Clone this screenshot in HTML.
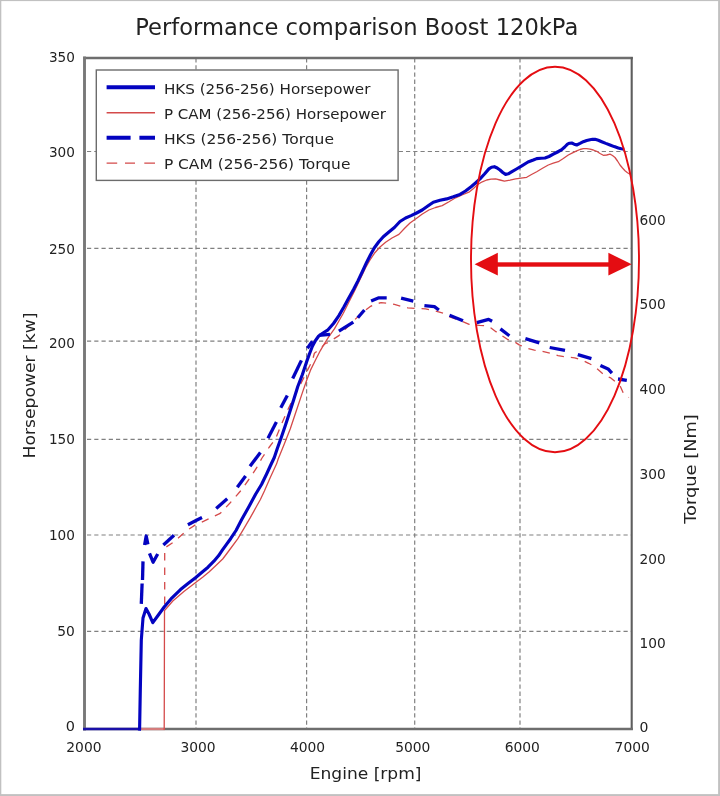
<!DOCTYPE html>
<html lang="en"><head><meta charset="utf-8"><title>Performance comparison Boost 120kPa</title>
<style>html,body{margin:0;padding:0;background:#fff}body{width:720px;height:796px;overflow:hidden}svg{display:block}text{font-family:"DejaVu Sans","Liberation Sans",sans-serif;fill:#222222}</style></head><body>
<svg width="720" height="796" viewBox="0 0 720 796">
<rect x="0" y="0" width="720" height="796" fill="#ffffff"/>
<g fill="#c1c1c1"><rect x="0" y="0" width="720" height="1.1"/><rect x="0" y="0" width="1.3" height="796"/><rect x="718.1" y="0" width="1.9" height="796"/><rect x="0" y="794.1" width="720" height="1.9"/></g>
<g stroke="#808080" stroke-width="1.2" fill="none" stroke-dasharray="4.2 3.05">
<line x1="87.0" y1="151.5" x2="631.7" y2="151.5"/>
<line x1="87.0" y1="248.4" x2="631.7" y2="248.4"/>
<line x1="87.0" y1="341.1" x2="631.7" y2="341.1"/>
<line x1="87.0" y1="439.3" x2="631.7" y2="439.3"/>
<line x1="87.0" y1="535.0" x2="631.7" y2="535.0"/>
<line x1="87.0" y1="631.4" x2="631.7" y2="631.4"/>
</g>
<g stroke="#808080" stroke-width="1.2" fill="none" stroke-dasharray="4.4 2.8">
<line x1="196.0" y1="58.0" x2="196.0" y2="729.0"/>
<line x1="306.6" y1="58.0" x2="306.6" y2="729.0"/>
<line x1="414.7" y1="58.0" x2="414.7" y2="729.0"/>
<line x1="520.0" y1="58.0" x2="520.0" y2="729.0"/>
</g>
<g stroke="#6e6e6e" fill="none" stroke-linecap="square">
<line x1="84.5" y1="58.0" x2="631.7" y2="58.0" stroke-width="2.3"/>
<line x1="631.7" y1="58.0" x2="631.7" y2="729.0" stroke-width="2.1" stroke="#5e5e5e"/>
<line x1="84.5" y1="729.0" x2="631.7" y2="729.0" stroke-width="2.4"/>
<line x1="84.5" y1="58.0" x2="84.5" y2="729.0" stroke-width="2.9" stroke="#787878"/>
</g>
<line x1="140" y1="729.0" x2="165" y2="729.0" stroke="#d47c7c" stroke-width="2.3"/>
<line x1="83" y1="729.0" x2="140.8" y2="729.0" stroke="#1a10a8" stroke-width="2.6"/>
<polyline points="164.7,604.0 164.7,548.0 174.0,541.8 187.0,530.4 196.0,524.5 203.4,521.4 220.2,513.4 230.0,503.0 240.3,491.3 248.5,480.0 256.4,468.2 262.0,458.0 269.0,447.5 275.5,439.0 282.0,423.0 288.3,408.7 294.3,396.5 300.4,384.5 306.4,372.5 312.4,360.4 314.4,353.3 320.5,348.3 325.6,343.3 328.5,342.3 338.9,335.6 346.5,328.0 354.4,320.0 362.0,313.0 370.0,306.7 375.5,304.0 381.1,302.7 388.0,303.2 394.4,304.4 401.0,306.3 407.8,307.8 416.5,308.5 425.6,308.9 434.5,310.8 443.3,313.3 448.3,316.4 453.9,318.5 462.2,321.3 469.2,324.4 479.6,325.4 487.2,325.8 491.0,328.0 495.6,331.4 501.1,335.1 507.4,339.3 515.0,342.1 519.2,344.9 526.8,348.1 534.4,350.2 540.0,350.8 552.5,353.9 558.0,355.7 566.4,357.1 574.7,357.8 582.4,360.3 588.6,363.3 594.4,366.4 599.7,371.0 605.3,375.8 610.8,377.9 615.7,382.1 620.6,386.9 623.3,393.2 628.9,397.4" fill="none" stroke="#d44a4a" stroke-width="1.3" stroke-dasharray="7.5 7" stroke-linejoin="round"/>
<polyline points="164.2,730.0 164.3,700.0 164.5,610.6 172.8,601.0 183.9,591.6 195.0,582.9 202.6,577.3 209.0,572.0 215.1,566.3 222.7,559.0 226.5,554.0 230.2,549.0 237.7,538.9 244.0,528.3 250.3,517.6 256.6,506.3 260.4,499.5 264.4,491.0 270.5,477.0 276.5,464.1 278.2,459.0 284.3,444.0 290.3,428.8 296.4,410.5 302.4,392.6 306.4,381.0 310.4,370.4 315.5,360.0 320.5,350.3 324.5,343.5 328.5,337.2 334.4,328.9 338.9,321.0 343.3,313.3 348.9,302.0 354.4,291.1 360.0,279.5 365.6,267.8 370.0,260.0 374.4,253.3 380.0,247.0 385.6,242.2 392.0,238.0 398.9,234.4 404.4,228.5 410.0,223.0 415.6,218.9 422.0,214.3 428.9,210.0 435.5,207.5 442.2,205.6 449.0,201.8 455.6,197.8 462.0,195.0 468.9,192.2 473.5,188.5 477.8,184.4 482.3,181.8 486.7,180.0 491.0,179.2 495.6,178.9 500.0,180.0 504.4,181.1 510.0,180.2 515.6,178.9 521.0,178.2 526.7,177.3 531.5,174.5 536.7,171.7 542.5,168.3 548.3,165.0 553.3,163.2 558.3,161.7 563.3,158.5 568.3,155.0 572.5,152.8 576.7,150.8 580.0,149.5 583.3,148.7 586.7,148.7 590.0,149.2 593.3,150.0 596.7,151.3 600.0,153.5 603.3,155.3 606.7,155.0 610.0,154.2 612.5,155.5 615.0,157.5 617.5,161.0 620.0,165.0 622.5,168.0 625.0,170.8 627.5,172.8 630.0,174.2" fill="none" stroke="#d44a4a" stroke-width="1.3" stroke-linejoin="round"/>
<g fill="none" stroke="#0303c0" stroke-width="3.3" stroke-linejoin="round" stroke-linecap="butt">
<polyline points="141.3,603.9 142.1,583.5"/>
<polyline points="142.5,580.0 143.0,561.4"/>
<polyline points="144.6,545.0 146.2,536.0 147.9,544.3"/>
<polyline points="149.5,553.3 153.1,562.2 157.7,554.0"/>
<polyline points="163.4,545.0 174.0,535.3"/>
<polyline points="187.9,524.7 196.0,520.5 202.0,517.5"/>
<polyline points="216.2,508.4 227.2,498.8"/>
<polyline points="237.3,487.3 245.6,476.0"/>
<polyline points="250.0,466.2 260.4,452.5"/>
<polyline points="268.0,438.2 276.4,422.0"/>
<polyline points="280.8,407.8 287.3,395.5"/>
<polyline points="292.7,378.5 301.4,360.4"/>
<polyline points="307.4,348.3 312.4,341.2"/>
<polyline points="318.9,335.3 330.0,334.4"/>
<polyline points="338.9,331.1 353.3,322.2"/>
<polyline points="357.8,317.8 364.4,310.0"/>
<polyline points="371.1,301.1 378.9,297.8 386.7,297.8"/>
<polyline points="401.1,298.2 413.3,301.1"/>
<polyline points="424.4,305.6 434.4,306.7 438.9,310.0"/>
<polyline points="449.5,315.2 463.0,320.7"/>
<polyline points="476.8,322.6 488.6,319.4 492.1,321.3"/>
<polyline points="500.4,328.9 509.4,335.8"/>
<polyline points="525.4,338.6 539.3,342.8"/>
<polyline points="549.7,347.5 565.0,350.4"/>
<polyline points="577.8,354.6 591.4,358.6"/>
<polyline points="600.4,365.4 608.1,368.9 611.9,373.1"/>
<polyline points="618.0,379.0 626.8,380.3"/>
</g>
<polyline points="139.4,730.6 139.6,729.0 140.3,690.0 141.3,640.0 143.0,618.0 146.0,608.5 149.0,614.0 152.8,622.7 158.0,615.5 164.2,607.0 172.0,597.8 180.5,589.6 188.0,583.6 195.2,578.0 202.0,572.2 208.0,567.2 213.9,561.2 218.5,555.8 222.5,549.9 226.5,544.3 230.6,538.7 236.0,530.5 241.7,519.5 249.0,506.5 255.6,494.3 261.5,484.5 266.5,474.2 270.5,465.5 274.3,457.5 277.3,448.5 281.5,436.8 285.5,425.0 289.5,412.7 293.6,400.0 297.8,386.5 302.4,374.5 306.4,362.4 309.4,354.0 312.4,346.3 315.5,340.5 318.7,336.0 323.0,333.0 328.0,329.8 333.5,323.5 338.9,315.6 344.0,306.8 348.9,297.8 353.5,289.5 357.8,281.1 362.3,271.7 366.7,262.2 370.5,254.8 374.4,247.8 378.8,241.8 383.3,236.7 388.9,232.0 394.4,227.5 400.0,221.5 405.6,218.0 411.1,215.6 416.6,213.0 422.2,210.0 427.8,206.0 433.3,202.2 440.0,200.3 446.7,198.9 453.3,196.8 460.0,194.4 465.5,191.0 471.1,186.7 475.5,183.0 480.0,178.9 484.5,174.0 488.9,168.9 491.5,167.2 494.4,166.7 497.2,168.0 500.0,170.0 502.8,172.5 505.6,174.4 508.3,173.8 511.1,172.2 516.5,169.0 522.2,165.6 528.0,162.0 533.3,160.0 536.7,158.6 541.0,158.2 545.0,158.0 549.0,156.5 553.3,154.2 557.5,152.0 561.7,149.7 564.7,147.0 567.5,144.2 569.6,143.2 571.7,143.0 574.2,144.2 576.7,145.0 580.0,143.4 583.3,141.7 586.7,140.5 590.0,139.7 592.5,139.3 595.0,139.3 598.3,140.3 601.7,141.7 605.8,143.4 610.0,145.0 614.2,146.6 618.3,148.0 621.3,148.8 624.2,149.2" fill="none" stroke="#0303c0" stroke-width="3.15" stroke-linejoin="round" stroke-linecap="butt"/>
<ellipse cx="555" cy="259.5" rx="84" ry="192.8" fill="none" stroke="#e40d12" stroke-width="1.9"/>
<g fill="#e40d12" stroke="none"><rect x="496" y="262.3" width="114" height="4.4"/><polygon points="474.6,264.3 497.8,252.8 497.8,275.4"/><polygon points="631.7,264.3 608.4,252.8 608.4,275.4"/></g>
<rect x="96.3" y="70" width="301.8" height="110.4" fill="#ffffff" stroke="#6c6c6c" stroke-width="1.4"/>
<line x1="106.6" y1="87.2" x2="155" y2="87.2" stroke="#0303c0" stroke-width="4.1"/>
<line x1="106.6" y1="112.7" x2="155" y2="112.7" stroke="#d44a4a" stroke-width="1.4"/>
<path d="M106.6 137.7H130.6M139.4 137.7H155" stroke="#0303c0" stroke-width="4.1" fill="none"/>
<path d="M106.6 163.1H117.2M125 163.1H135M144.3 163.1H155" stroke="#d44a4a" stroke-width="1.4" fill="none"/>
<text x="163.9" y="93.8" font-size="14.7" textLength="206.5" lengthAdjust="spacingAndGlyphs">HKS (256-256) Horsepower</text>
<text x="163.9" y="118.9" font-size="14.7" textLength="222.1" lengthAdjust="spacingAndGlyphs">P CAM (256-256) Horsepower</text>
<text x="163.9" y="143.8" font-size="14.7" textLength="170.1" lengthAdjust="spacingAndGlyphs">HKS (256-256) Torque</text>
<text x="163.9" y="168.9" font-size="14.7" textLength="186.5" lengthAdjust="spacingAndGlyphs">P CAM (256-256) Torque</text>
<text x="135.3" y="34.6" font-size="22.6" textLength="443" lengthAdjust="spacingAndGlyphs">Performance comparison Boost 120kPa</text>
<text x="48.9" y="62.1" font-size="14.8" textLength="26" lengthAdjust="spacingAndGlyphs">350</text>
<text x="48.9" y="157.2" font-size="14.8" textLength="26" lengthAdjust="spacingAndGlyphs">300</text>
<text x="48.9" y="254.2" font-size="14.8" textLength="26" lengthAdjust="spacingAndGlyphs">250</text>
<text x="48.9" y="348.4" font-size="14.8" textLength="26" lengthAdjust="spacingAndGlyphs">200</text>
<text x="48.9" y="443.9" font-size="14.8" textLength="26" lengthAdjust="spacingAndGlyphs">150</text>
<text x="48.9" y="540.0" font-size="14.8" textLength="26" lengthAdjust="spacingAndGlyphs">100</text>
<text x="57.3" y="635.6" font-size="14.8" textLength="17.6" lengthAdjust="spacingAndGlyphs">50</text>
<text x="65.7" y="731.1" font-size="14.8" textLength="9.2" lengthAdjust="spacingAndGlyphs">0</text>
<text x="639.6" y="225.2" font-size="14.8" textLength="26.2" lengthAdjust="spacingAndGlyphs">600</text>
<text x="639.6" y="309.2" font-size="14.8" textLength="26.2" lengthAdjust="spacingAndGlyphs">500</text>
<text x="639.6" y="394.4" font-size="14.8" textLength="26.2" lengthAdjust="spacingAndGlyphs">400</text>
<text x="639.6" y="479.0" font-size="14.8" textLength="26.2" lengthAdjust="spacingAndGlyphs">300</text>
<text x="639.6" y="563.7" font-size="14.8" textLength="26.2" lengthAdjust="spacingAndGlyphs">200</text>
<text x="639.6" y="648.2" font-size="14.8" textLength="26.2" lengthAdjust="spacingAndGlyphs">100</text>
<text x="639.6" y="731.9" font-size="14.8" textLength="8.9" lengthAdjust="spacingAndGlyphs">0</text>
<text x="66.3" y="751.6" font-size="14.8" textLength="35.2" lengthAdjust="spacingAndGlyphs">2000</text>
<text x="180.4" y="751.6" font-size="14.8" textLength="35.2" lengthAdjust="spacingAndGlyphs">3000</text>
<text x="289.9" y="751.6" font-size="14.8" textLength="35.2" lengthAdjust="spacingAndGlyphs">4000</text>
<text x="395.2" y="751.6" font-size="14.8" textLength="35.2" lengthAdjust="spacingAndGlyphs">5000</text>
<text x="504.7" y="751.6" font-size="14.8" textLength="35.2" lengthAdjust="spacingAndGlyphs">6000</text>
<text x="614.6" y="751.6" font-size="14.8" textLength="35.2" lengthAdjust="spacingAndGlyphs">7000</text>
<text x="309.7" y="779" font-size="16.4" textLength="111.8" lengthAdjust="spacingAndGlyphs">Engine [rpm]</text>
<text transform="translate(35.2,458.4) rotate(-90)" font-size="16.6" textLength="145.9" lengthAdjust="spacingAndGlyphs">Horsepower [kw]</text>
<text transform="translate(696.4,523.8) rotate(-90)" font-size="16.5" textLength="109.6" lengthAdjust="spacingAndGlyphs">Torque [Nm]</text>
</svg></body></html>
